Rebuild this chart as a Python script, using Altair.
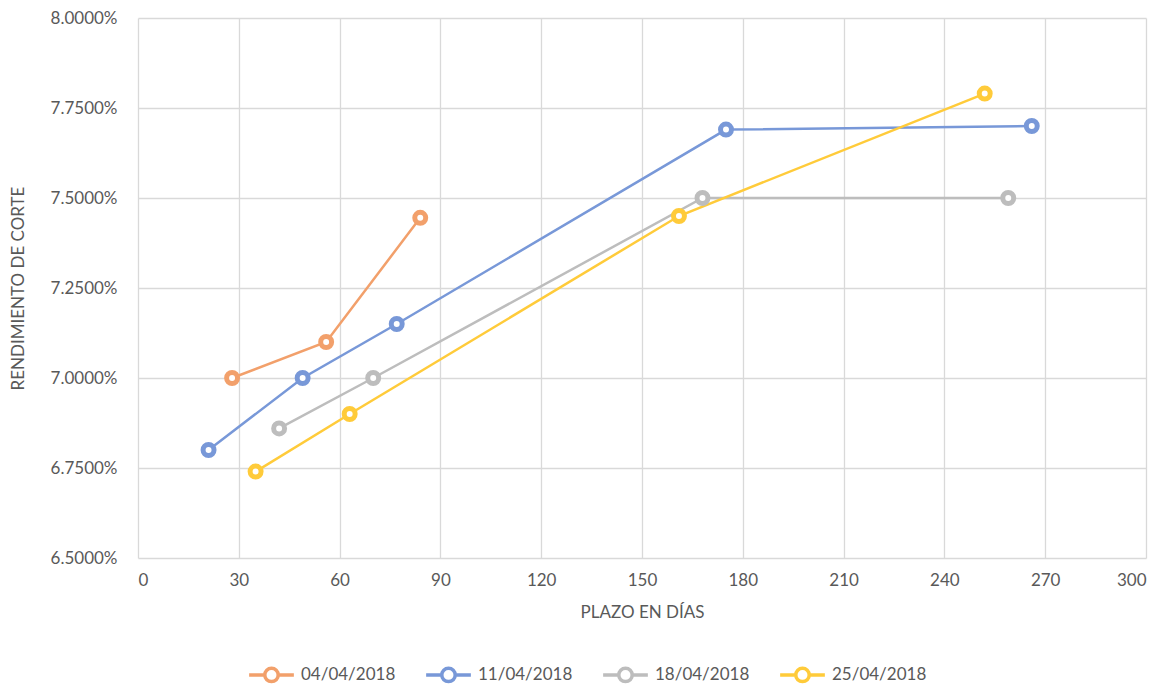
import altair as alt
import pandas as pd

series = ["04/04/2018", "11/04/2018", "18/04/2018", "25/04/2018"]
days_0404 = [28, 56, 84]
rate_0404 = [7.00, 7.10, 7.445]
days_1104 = [21, 49, 77, 175, 266]
rate_1104 = [6.80, 7.00, 7.15, 7.69, 7.70]
days_1804 = [42, 70, 168, 259]
rate_1804 = [6.86, 7.00, 7.50, 7.50]
days_2504 = [35, 63, 161, 252]
rate_2504 = [6.74, 6.90, 7.45, 7.79]
colors = ["#F2A06B", "#7898D8", "#BDBDBD", "#FFCB3A"]

rows = []
for name, ds, rs in zip(series, [days_0404, days_1104, days_1804, days_2504],
                        [rate_0404, rate_1104, rate_1804, rate_2504]):
    for d, r in zip(ds, rs):
        rows.append({"serie": name, "plazo": d, "rend": r})
df = pd.DataFrame(rows)

FONT = "Lato"
GREY = "#595959"

x = alt.X("plazo:Q", scale=alt.Scale(domain=[0, 300], nice=False),
          axis=alt.Axis(values=list(range(0, 301, 30)), title="PLAZO EN DÍAS",
                        labelPadding=14, titlePadding=16, domain=False, ticks=False))
y = alt.Y("rend:Q", scale=alt.Scale(domain=[6.5, 8.0], nice=False, zero=False),
          axis=alt.Axis(values=[6.5, 6.75, 7.0, 7.25, 7.5, 7.75, 8.0],
                        labelExpr="format(datum.value, '.4f') + '%'",
                        title="RENDIMIENTO DE CORTE", labelPadding=21, titlePadding=23,
                        domain=False, ticks=False))
color = alt.Color("serie:N", scale=alt.Scale(domain=series, range=colors),
                  legend=alt.Legend(title=None, orient="none", direction="horizontal",
                                    legendX=109, legendY=632,
                                    symbolType="M-1,0L-0.3,0M0.3,0L1,0M-0.3,0A0.3,0.3 0 1,0 0.3,0A0.3,0.3 0 1,0 -0.3,0",
                                    symbolSize=2000, symbolStrokeWidth=3.5, symbolFillColor="white",
                                    labelFontSize=17, labelColor=GREY, labelFont=FONT,
                                    columnPadding=23, labelOffset=5))

lines = alt.Chart(df).mark_line(strokeWidth=2.5).encode(x=x, y=y, color=color, detail="serie:N")
pts = alt.Chart(df).mark_point(filled=False, fill="white", fillOpacity=1, size=120,
                               strokeWidth=5, opacity=1).encode(
    x="plazo:Q", y="rend:Q",
    stroke=alt.Stroke("serie:N", scale=alt.Scale(domain=series, range=colors), legend=None))

chart = alt.layer(lines, pts).properties(
    width=1008, height=540,
    padding={"left": 138, "top": 18, "right": 22, "bottom": 128},
    autosize=alt.AutoSizeParams(type="none"),
    background="white",
).configure_view(stroke=None).configure_axis(
    gridColor="#D9D9D9", gridWidth=1.3, labelFont=FONT, titleFont=FONT,
    labelFontSize=17, titleFontSize=17, labelColor=GREY, titleColor=GREY,
    titleFontWeight="normal",
)

chart.save("out.html", embed_options={"renderer": "svg", "actions": False})
